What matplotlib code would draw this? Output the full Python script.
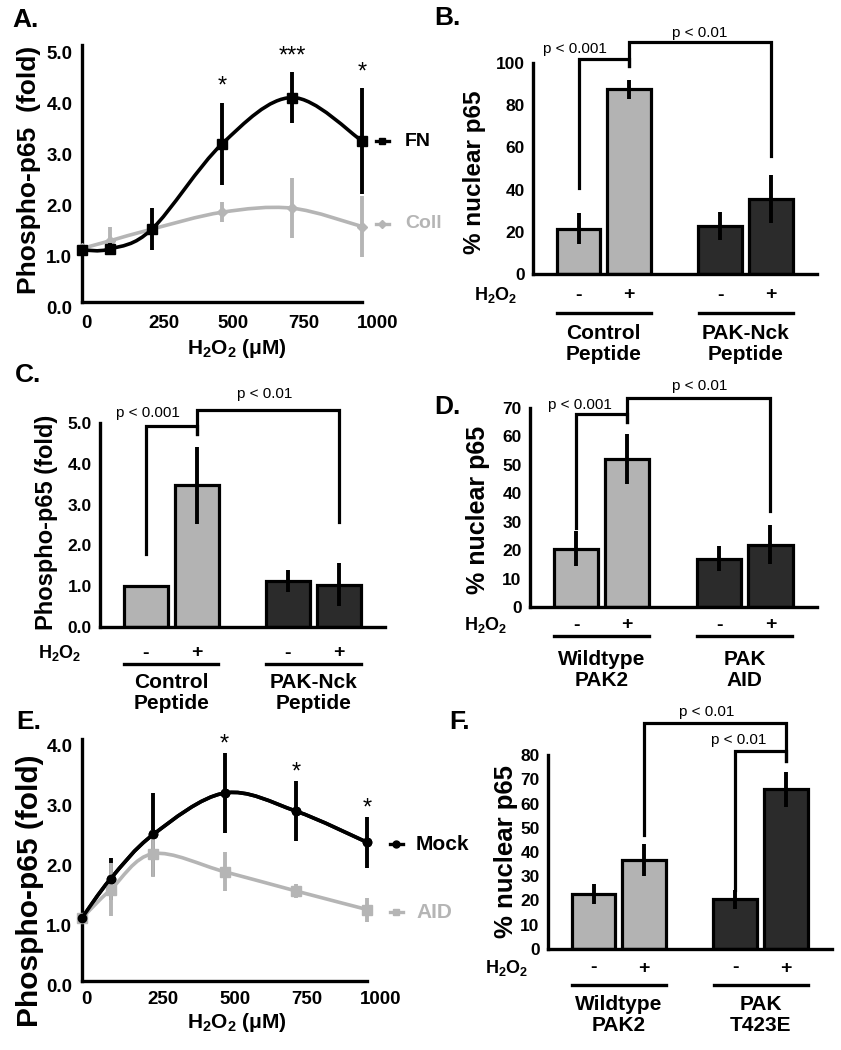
import matplotlib
matplotlib.use("Agg")
import numpy as np
import matplotlib.pyplot as plt
from matplotlib.path import Path
from matplotlib.patches import PathPatch
from matplotlib.lines import Line2D
import matplotlib.transforms as mtransforms

plt.rcParams['font.family'] = ['Liberation Sans', 'DejaVu Sans']
plt.rcParams['font.weight'] = 'bold'
plt.rcParams['mathtext.fontset'] = 'custom'
plt.rcParams['mathtext.rm'] = 'Liberation Sans:bold'
plt.rcParams['mathtext.it'] = 'Liberation Sans:bold'
plt.rcParams['mathtext.bf'] = 'Liberation Sans:bold'

# ---------------- data ----------------
dose = [0, 100, 250, 500, 750, 1000]
dose_ticks = [0, 250, 500, 750, 1000]

# Panel A
fn_mean = [1.02, 1.04, 1.43, 3.10, 4.01, 3.16]
fn_err = [0.0, 0.12, 0.41, 0.81, 0.50, 1.04]
coll_mean = [1.05, 1.20, 1.43, 1.76, 1.84, 1.48]
coll_err = [0.0, 0.28, 0.10, 0.20, 0.59, 0.59]
fn_sig = ['', '', '', '*', '***', '*']

# Panel E
mock_mean = [1.05, 1.70, 2.44, 3.13, 2.83, 2.31]
mock_err = [0.0, 0.35, 0.69, 0.66, 0.50, 0.42]
aid_mean = [1.05, 1.52, 2.12, 1.82, 1.50, 1.19]
aid_err = [0.0, 0.44, 0.39, 0.32, 0.12, 0.20]
mock_sig = ['', '', '', '*', '*', '*']

treat = ['-', '+', '-', '+']

# Panel B
b_vals = [21.5, 87.5, 22.7, 35.4]
b_err = [7.5, 4.4, 6.7, 11.3]
b_groups = ['Control\nPeptide', 'PAK-Nck\nPeptide']

# Panel C
c_vals = [1.0, 3.47, 1.12, 1.04]
c_err = [0.0, 0.94, 0.27, 0.52]
c_groups = ['Control\nPeptide', 'PAK-Nck\nPeptide']

# Panel D
d_vals = [20.5, 52.2, 17.0, 21.9]
d_err = [6.1, 8.8, 4.5, 6.8]
d_groups = ['Wildtype\nPAK2', 'PAK\nAID']

# Panel F
f_vals = [22.6, 36.7, 20.5, 65.9]
f_err = [4.2, 6.7, 3.8, 7.2]
f_groups = ['Wildtype\nPAK2', 'PAK\nT423E']

# ---------------- layout helpers ----------------
W, H = 841, 1050
fig = plt.figure(figsize=(W / 100, H / 100), dpi=100)
pxT = mtransforms.Affine2D().scale(1 / W, -1 / H).translate(0, 1) + fig.transFigure

LIGHT = '#b3b3b3'
DARK = '#2b2b2b'
GRAYLINE = '#b5b5b5'


def add_ax(l, t, r, b):
    return fig.add_axes([l / W, 1 - b / H, (r - l) / W, (b - t) / H])


def style_ax(ax, lw=2.4):
    for s in ['top', 'right']:
        ax.spines[s].set_visible(False)
    for s in ['left', 'bottom']:
        ax.spines[s].set_linewidth(lw)
        ax.spines[s].set_capstyle('projecting')
    ax.tick_params(length=0)


def offset_labels(labels, dxs, dy=0):
    for lab, dx in zip(labels, dxs):
        off = mtransforms.ScaledTranslation(dx / 100, -dy / 100, fig.dpi_scale_trans)
        lab.set_transform(lab.get_transform() + off)


def smooth_path(xs, ys):
    pts = np.column_stack([xs, ys]).astype(float)
    n = len(pts)
    verts = [pts[0]]
    codes = [Path.MOVETO]
    for i in range(n - 1):
        p0 = pts[i - 1] if i > 0 else pts[i]
        p1 = pts[i]
        p2 = pts[i + 1]
        p3 = pts[i + 2] if i + 2 < n else pts[i + 1]
        verts += [p1 + (p2 - p0) / 6, p2 - (p3 - p1) / 6, p2]
        codes += [Path.CURVE4] * 3
    return Path(verts, codes)


def panel_letter(txt, x, y):
    fig.text(x, y, txt, transform=pxT, fontsize=19, fontweight='bold', ha='left', va='center')


def ylabel_px(txt, x, y, size):
    fig.text(x, y, txt, transform=pxT, fontsize=size, fontweight='bold', rotation=90,
             ha='center', va='center')


def legend_entry(x1, x2, y, color, marker, ms, label, tx, size, lw=2.4):
    fig.add_artist(Line2D([x1, x2], [y, y], transform=pxT, color=color, lw=lw))
    fig.add_artist(Line2D([(x1 + x2) / 2], [y], transform=pxT, color=color, marker=marker,
                          markersize=ms, lw=0))
    fig.text(tx, y, label, transform=pxT, color=color, fontsize=size, fontweight='bold',
             ha='left', va='center')


def line_panel(ax, series, ylim, yticks, star_series, star_off, xlab_dx, xpad):
    style_ax(ax)
    for (m, e, color, marker, ms, z) in series:
        ax.errorbar(dose, m, yerr=e, fmt='none', ecolor=color, elinewidth=2.8, capsize=0,
                    zorder=z, clip_on=False)
        ax.add_patch(PathPatch(smooth_path(dose, m), fill=False, edgecolor=color, lw=2.6,
                               zorder=z + 0.5, clip_on=False))
        ax.plot(dose, m, lw=0, marker=marker, markersize=ms, color=color, zorder=z + 0.6,
                clip_on=False)
    m, e, sig = star_series
    for x, mv, ev, s in zip(dose, m, e, sig):
        if s:
            ax.annotate(s, xy=(x, mv + ev), xytext=(0, star_off), textcoords='offset points',
                        ha='center', va='baseline', fontsize=17, fontweight='normal')
    ax.set_xlim(0, 1000)
    ax.set_ylim(*ylim)
    ax.set_xticks(dose_ticks)
    ax.set_xticklabels([str(t) for t in dose_ticks], fontsize=13.5)
    ax.set_yticks(yticks)
    ax.set_yticklabels(['%.1f' % t for t in yticks], fontsize=13.5)
    ax.tick_params(axis='x', pad=xpad)
    ax.tick_params(axis='y', pad=7)
    offset_labels(ax.get_xticklabels(), xlab_dx)
    offset_labels(ax.get_yticklabels(), [0] * len(yticks), dy=5)


pos = [0, 1, 2.8, 3.8]
group_centers = [0.5, 3.3]


def bar_panel(ax, vals, errs, ylim, yticks, labels, groups, rows, h2o2_x, brackets, ptexts):
    style_ax(ax, lw=2.4)
    ax.bar(pos, vals, width=0.866, color=[LIGHT, LIGHT, DARK, DARK], edgecolor='black',
           linewidth=2.3, zorder=2)
    ax.errorbar(pos, vals, yerr=errs, fmt='none', ecolor='black', elinewidth=2.8, capsize=0,
                zorder=3)
    ax.set_xlim(-0.9, 4.71)
    ax.set_ylim(*ylim)
    ax.set_xticks([])
    ax.set_yticks(yticks)
    ax.set_yticklabels(labels, fontsize=12.5)
    ax.tick_params(axis='y', pad=6)
    h_y, line_y, grp_y = rows
    bt = mtransforms.blended_transform_factory(ax.transData, pxT)
    fig.text(h2o2_x, h_y, 'H$_2$O$_2$', transform=pxT, fontsize=13, fontweight='bold',
             ha='right', va='center')
    for p, t in zip(pos, treat):
        ax.text(p, h_y, t, transform=bt, fontsize=14, fontweight='bold', ha='center',
                va='center', clip_on=False)
    for gc, g in zip(group_centers, groups):
        ax.add_line(Line2D([gc - 0.93, gc + 0.93], [line_y, line_y], transform=bt,
                           color='black', lw=2.4, clip_on=False))
        ax.text(gc, grp_y, g, transform=bt, fontsize=15, fontweight='bold', ha='center',
                va='center', linespacing=1.1, clip_on=False)
    for (x1, x2, yb1, ytop, yb2) in brackets:
        ax.plot([x1, x1, x2, x2], [yb1, ytop, ytop, yb2], color='black', lw=2.3,
                clip_on=False, solid_joinstyle='miter', zorder=4)
    for (tx, ty, txt) in ptexts:
        ax.text(tx, ty, txt, fontsize=11, fontweight='normal', ha='center', va='center',
                clip_on=False)


# ---------------- Panel A ----------------
axA = add_ax(82, 44.5, 362, 302)
line_panel(axA,
           [(coll_mean, coll_err, GRAYLINE, 'D', 5, 2),
            (fn_mean, fn_err, 'black', 's', 7.5, 4)],
           (0, 5.05), [0, 1, 2, 3, 4, 5], (fn_mean, fn_err, fn_sig), 7,
           [4, 11.5, 11, 11.5, 16], 9)
fig.text(237, 348, 'H$_2$O$_2$ (μM)', transform=pxT, fontsize=15, fontweight='bold',
         ha='center', va='center')
ylabel_px('Phospho-p65  (fold)', 29, 170, 19)
legend_entry(376, 389, 141, 'black', 's', 5, 'FN', 405, 14)
legend_entry(376, 389, 224, GRAYLINE, 'D', 4, 'Coll', 405, 14)
panel_letter('A.', 12, 20)

# ---------------- Panel E ----------------
axE = add_ax(82, 739, 367, 981)
line_panel(axE,
           [(mock_mean, mock_err, 'black', 'o', 6, 2),
            (aid_mean, aid_err, GRAYLINE, 's', 7, 3)],
           (0, 4.03), [0, 1, 2, 3, 4], (mock_mean, mock_err, mock_sig), 2,
           [4, 10, 10.5, 11, 14], 7)
# black line above the gray one
axE.add_patch(PathPatch(smooth_path(dose, mock_mean), fill=False, edgecolor='black', lw=2.6,
                        zorder=5, clip_on=False))
axE.plot(dose, mock_mean, lw=0, marker='o', markersize=6, color='black', zorder=5.5,
         clip_on=False)
fig.text(237, 1022, 'H$_2$O$_2$ (μM)', transform=pxT, fontsize=15, fontweight='bold',
         ha='center', va='center')
ylabel_px('Phospho-p65 (fold)', 30, 891, 21.5)
legend_entry(390, 403, 844, 'black', 'o', 5, 'Mock', 416, 15)
legend_entry(390, 403, 912, GRAYLINE, 's', 5, 'AID', 416, 15)
panel_letter('E.', 16, 722)

# ---------------- Panel B ----------------
axB = add_ax(533, 63, 817, 274)
bar_panel(axB, b_vals, b_err, (0, 100), [0, 20, 40, 60, 80, 100],
          ['0', '20', '40', '60', '80', '100'], b_groups, (295, 313, 344), 517,
          [(pos[0], pos[1], 40.8, 102.0, 98.6), (pos[1], pos[3], 98.6, 110.0, 56.0)],
          [(-0.08, 106.6, 'p < 0.001'), (2.39, 114.2, 'p < 0.01')])
ylabel_px('% nuclear p65', 475, 172, 17.5)
panel_letter('B.', 434, 18)

# ---------------- Panel C ----------------
axC = add_ax(100, 423, 385, 627)
bar_panel(axC, c_vals, c_err, (0, 5), [0, 1, 2, 3, 4, 5],
          ['0.0', '1.0', '2.0', '3.0', '4.0', '5.0'], c_groups, (653, 664, 693), 81,
          [(pos[0], pos[1], 1.8, 4.92, 4.73), (pos[1], pos[3], 4.73, 5.32, 2.57)],
          [(0.05, 5.25, 'p < 0.001'), (2.35, 5.71, 'p < 0.01')])
ylabel_px('Phospho-p65 (fold)', 47, 522, 17)
panel_letter('C.', 15, 375)

# ---------------- Panel D ----------------
axD = add_ax(530, 408, 817, 607)
bar_panel(axD, d_vals, d_err, (0, 70), [0, 10, 20, 30, 40, 50, 60, 70],
          ['0', '10', '20', '30', '40', '50', '60', '70'], d_groups, (625, 636, 670), 507,
          [(pos[0], pos[1], 27.9, 67.9, 65.2), (pos[1], pos[3], 65.2, 73.5, 33.8)],
          [(0.07, 71.2, 'p < 0.001'), (2.41, 77.8, 'p < 0.01')])
ylabel_px('% nuclear p65', 478, 510, 18)
panel_letter('D.', 434, 407)

# ---------------- Panel F ----------------
axF = add_ax(548, 755, 832, 949)
bar_panel(axF, f_vals, f_err, (0, 80), [0, 10, 20, 30, 40, 50, 60, 70, 80],
          ['0', '10', '20', '30', '40', '50', '60', '70', '80'], f_groups, (968, 985, 1015),
          528,
          [(pos[1], pos[3], 47.0, 93.1, 77.6), (pos[2], pos[3], 24.3, 81.6, 77.6)],
          [(2.23, 97.7, 'p < 0.01'), (2.86, 86.2, 'p < 0.01')])
ylabel_px('% nuclear p65', 506, 852, 18.5)
panel_letter('F.', 449, 722)

fig.savefig('out.png', dpi=100)
